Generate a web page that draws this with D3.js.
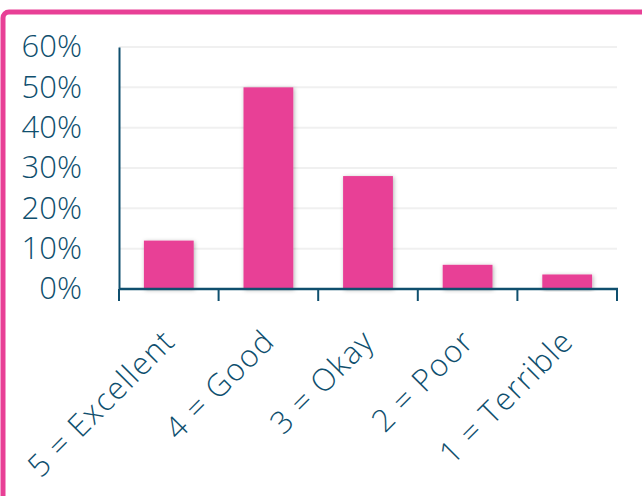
<!DOCTYPE html>
<html><head><meta charset="utf-8">
<script src="https://cdn.jsdelivr.net/npm/d3@7/dist/d3.min.js"></script>
<style>
html,body{margin:0;padding:0;background:#fff;overflow:hidden;}
</style></head>
<body>
<script>
const categories = ["5 = Excellent", "4 = Good", "3 = Okay", "2 = Poor", "1 = Terrible"];
const values = [0.12, 0.50, 0.28, 0.06, 0.036];
const yTicks = [0, 0.1, 0.2, 0.3, 0.4, 0.5, 0.6];

const W = 642, H = 496;
const svg = d3.select("body").append("svg").attr("width", W).attr("height", H);
const defs = svg.append("defs");
const f = defs.append("filter").attr("id","sh").attr("x","-20%").attr("y","-20%").attr("width","140%").attr("height","140%");
f.append("feDropShadow").attr("dx",1).attr("dy",1).attr("stdDeviation",2).attr("flood-color","#000").attr("flood-opacity",0.3);

// border
svg.append("rect").attr("x",3).attr("y",12).attr("width",W+20).attr("height",H+20)
  .attr("rx",6).attr("fill","none").attr("stroke","#E84096").attr("stroke-width",5);

const teal = "#0F4F6E";
const font = "Open Sans";
const x = d3.scaleBand().domain(categories).range([119, 617]).paddingInner(0.5).paddingOuter(0.25);
const y = d3.scaleLinear().domain([0, 0.6]).range([289, 47]);

// gridlines
svg.append("g").selectAll("line").data(yTicks.slice(1)).join("line")
  .attr("x1",119).attr("x2",617).attr("y1",d=>y(d)).attr("y2",d=>y(d))
  .attr("stroke","#f0f0f0").attr("stroke-width",2);

// bars
svg.append("g").selectAll("rect").data(values).join("rect")
  .attr("x",(d,i)=>x(categories[i])).attr("width",x.bandwidth())
  .attr("y",d=>y(d)).attr("height",d=>y(0)-y(d))
  .attr("fill","#E84096").attr("filter","url(#sh)");

// y axis
const ya = svg.append("g").attr("transform","translate(119,0)")
  .call(d3.axisLeft(y).tickValues(yTicks).tickFormat(d3.format(".0%")).tickSize(0).tickPadding(37));
ya.select(".domain").attr("stroke",teal).attr("stroke-width",2);
ya.selectAll("text").attr("fill",teal).style("font-family",font).style("font-weight",300).style("font-size","31px");

// x axis
const xa = svg.append("g").attr("transform","translate(0,289)");
xa.append("line").attr("x1",119).attr("x2",618).attr("y1",0).attr("y2",0).attr("stroke",teal).attr("stroke-width",2.5);
const tickPos = [119].concat(categories.map(c=>x(c)+x.bandwidth()/2+x.step()/2));
xa.selectAll("line.tk").data(tickPos).join("line").attr("class","tk")
  .attr("x1",d=>d).attr("x2",d=>d).attr("y1",0).attr("y2",12).attr("stroke",teal).attr("stroke-width",2);
xa.selectAll("text").data(categories).join("text")
  .attr("transform",c=>`translate(${x(c)+x.bandwidth()/2+8},${54}) rotate(-45)`)
  .attr("text-anchor","end").attr("fill",teal)
  .style("font-family",font).style("font-weight",300).style("font-size","31px")
  .style("letter-spacing","1.3px")
  .text(c=>c);
</script>
</body></html>
